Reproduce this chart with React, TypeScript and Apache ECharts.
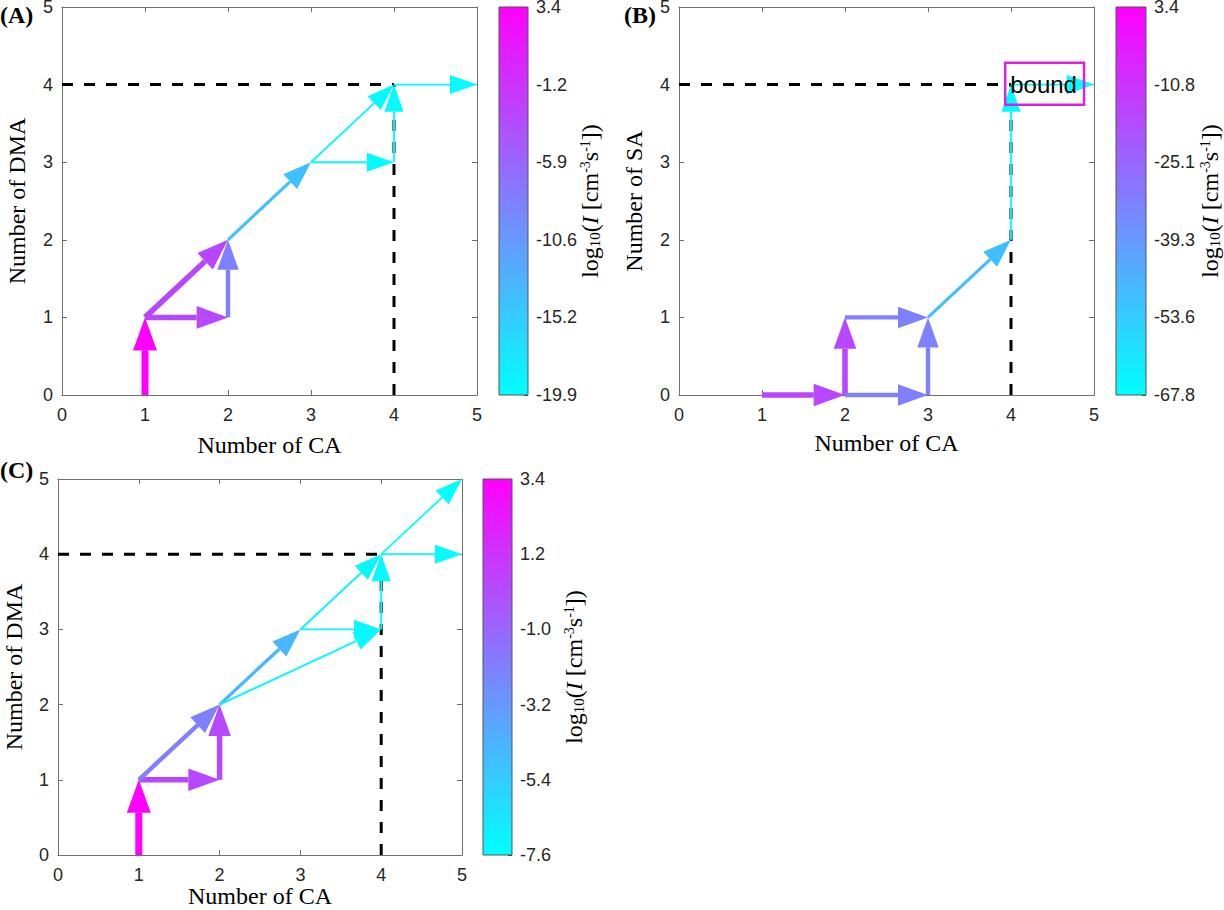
import React, { useEffect, useRef } from "react";
import * as echarts from "echarts";

// ---- data ----
// arrows: [from CA, from DMA/SA, to CA, to DMA/SA, log10 I]
const arrowsA = [
  [1, 0, 1, 1, 3.4],
  [1, 1, 2, 1, -3.1],
  [1, 1, 2, 2, -3.0],
  [2, 1, 2, 2, -8.3],
  [2, 2, 3, 3, -14.1],
  [3, 3, 4, 4, -19.4],
  [3, 3, 4, 3, -19.5],
  [4, 3, 4, 4, -19.6],
  [4, 4, 5, 4, -19.9],
];
const arrowsB = [
  [1, 0, 2, 0, -16.5],
  [2, 0, 2, 1, -16.3],
  [2, 0, 3, 0, -32.2],
  [2, 1, 3, 1, -32.4],
  [3, 0, 3, 1, -32.3],
  [3, 1, 4, 2, -50.0],
  [4, 2, 4, 4, -67.0],
  [4, 4, 5, 4, -67.8],
];
const arrowsC = [
  [1, 0, 1, 1, 3.4],
  [1, 1, 2, 1, 0.3],
  [2, 1, 2, 2, 0.3],
  [1, 1, 2, 2, -2.1],
  [2, 2, 3, 3, -4.5],
  [2, 2, 4, 3, -7.3],
  [3, 3, 4, 3, -7.3],
  [3, 3, 4, 4, -7.2],
  [4, 3, 4, 4, -7.4],
  [4, 4, 5, 4, -7.5],
  [4, 4, 5, 5, -7.6],
];
const rangeA = [-19.9, 3.4];
const rangeB = [-67.8, 3.4];
const rangeC = [-7.6, 3.4];
const cbarLabelsA = ["-19.9", "-15.2", "-10.6", "-5.9", "-1.2", "3.4"];
const cbarLabelsB = ["-67.8", "-53.6", "-39.3", "-25.1", "-10.8", "3.4"];
const cbarLabelsC = ["-7.6", "-5.4", "-3.2", "-1.0", "1.2", "3.4"];
const guideH = [[0, 4], [4, 4]];
const guideV = [[4, 0], [4, 4]];
const boundBox = [[3.93, 3.74, 4.88, 4.28]];
const boundText = "bound";
const xName = "Number of CA";
const yNames = ["Number of DMA", "Number of SA", "Number of DMA"];
const panelTags = ["(A)", "(B)", "(C)"];

const SANS = "Liberation Sans";
const SERIF = "Liberation Serif";
const LOW = "#00ffff";
const HIGH = "#ff00ff";

const panels = [
  {
    arrows: arrowsA, range: rangeA, cb: cbarLabelsA, yName: yNames[0],
    plot: { left: 62, top: 7, width: 415, height: 388 },
    bar: { left: 499, top: 7, width: 29, height: 388 },
    xGap: 38, yGap: 33, cbGap: 50, bound: false,
  },
  {
    arrows: arrowsB, range: rangeB, cb: cbarLabelsB, yName: yNames[1],
    plot: { left: 679, top: 7, width: 415, height: 388 },
    bar: { left: 1116, top: 7, width: 30, height: 388 },
    xGap: 36, yGap: 33, cbGap: 52, bound: true,
  },
  {
    arrows: arrowsC, range: rangeC, cb: cbarLabelsC, yName: yNames[2],
    plot: { left: 58, top: 479, width: 404, height: 376 },
    bar: { left: 483, top: 479, width: 29, height: 376 },
    xGap: 29, yGap: 32, cbGap: 50, bound: false,
  },
];

const cbName = "{t|log}{s|10}{t|(}{i|I}{t| [cm}{u|-3}{t|s}{u|-1}{t|])}";
const cbRich = {
  t: { fontFamily: SERIF, fontSize: 24, color: "#000", lineHeight: 24 },
  i: { fontFamily: SERIF, fontSize: 24, fontStyle: "italic", color: "#000", lineHeight: 24 },
  s: { fontFamily: SERIF, fontSize: 15, color: "#000", verticalAlign: "bottom", lineHeight: 13 },
  u: { fontFamily: SERIF, fontSize: 14, color: "#000", verticalAlign: "top", lineHeight: 13 },
};

function buildOption() {
  const grid: any[] = [];
  const xAxis: any[] = [];
  const yAxis: any[] = [];
  const series: any[] = [];
  const visualMap: any[] = [];
  const boxLine = { show: true, onZero: false, lineStyle: { color: "#707070", width: 1 } };
  const tick = { show: true, inside: true, length: 5, lineStyle: { color: "#707070" } };
  const tickLabel = { fontFamily: SANS, fontSize: 18, color: "#262626" };

  panels.forEach((p) => {
    const gMain = grid.length;
    grid.push({ ...p.plot, outerBoundsMode: "none", containLabel: false });
    const gBar = grid.length;
    grid.push({ ...p.bar, outerBoundsMode: "none", containLabel: false });

    const xb = xAxis.length;
    xAxis.push({
      gridIndex: gMain, type: "value", min: 0, max: 5, interval: 1, position: "bottom",
      axisLine: boxLine, axisTick: tick, splitLine: { show: false },
      axisLabel: { ...tickLabel, margin: 11 },
      name: xName, nameLocation: "middle", nameGap: p.xGap, nameMoveOverlap: false,
      nameTextStyle: { fontFamily: SERIF, fontSize: 24, color: "#000", lineHeight: 24 },
    });
    xAxis.push({
      gridIndex: gMain, type: "value", min: 0, max: 5, interval: 1, position: "top",
      axisLine: boxLine, axisTick: tick, splitLine: { show: false }, axisLabel: { show: false },
    });
    xAxis.push({ gridIndex: gBar, type: "value", min: 0, max: 1, show: false });

    const yl = yAxis.length;
    yAxis.push({
      gridIndex: gMain, type: "value", min: 0, max: 5, interval: 1, position: "left",
      axisLine: boxLine, axisTick: tick, splitLine: { show: false },
      axisLabel: { ...tickLabel, margin: 9 },
      name: p.yName, nameLocation: "middle", nameGap: p.yGap, nameRotate: 90, nameMoveOverlap: false,
      nameTextStyle: { fontFamily: SERIF, fontSize: 24, color: "#000", lineHeight: 24 },
    });
    yAxis.push({
      gridIndex: gMain, type: "value", min: 0, max: 5, interval: 1, position: "right",
      axisLine: boxLine, axisTick: tick, splitLine: { show: false }, axisLabel: { show: false },
    });
    const yc = yAxis.length;
    const labels = p.cb;
    yAxis.push({
      gridIndex: gBar, type: "value", min: 0, max: labels.length - 1, interval: 1, position: "right",
      axisLine: { show: false, onZero: false },
      axisTick: { show: true, inside: true, length: 4, lineStyle: { color: "#444" } },
      splitLine: { show: false },
      axisLabel: { ...tickLabel, margin: 8, formatter: (v: number) => labels[Math.round(v)] },
      name: cbName, nameLocation: "middle", nameGap: p.cbGap, nameRotate: 90, nameMoveOverlap: false,
      nameTextStyle: { rich: cbRich },
    });

    const dashStyle = { color: "#000", width: 3, type: [11, 11] };
    [guideH, guideV].forEach((g) => {
      series.push({
        type: "line", xAxisIndex: xb, yAxisIndex: yl, data: g, symbol: "none", silent: true,
        lineStyle: dashStyle, z: 2,
      });
    });

    const [vmin, vmax] = p.range;
    const arrowIdx = series.length;
    series.push({
      type: "custom", xAxisIndex: xb, yAxisIndex: yl, data: p.arrows, z: 3,
      encode: { x: [0, 2], y: [1, 3] },
      renderItem: (params: any, api: any) => {
        const a = api.coord([api.value(0), api.value(1)]);
        const b = api.coord([api.value(2), api.value(3)]);
        const v = api.value(4);
        const t = Math.max(0, Math.min(1, (v - vmin) / (vmax - vmin)));
        const color = api.visual("color");
        const lw = 1.8 + 5.2 * t;
        const dx = b[0] - a[0];
        const dy = b[1] - a[1];
        const len = Math.hypot(dx, dy) || 1;
        const ux = dx / len;
        const uy = dy / len;
        const hl = 27 + 6 * t;
        const hw = 9.5 + 2.5 * t;
        const bx = b[0] - ux * hl;
        const by = b[1] - uy * hl;
        const nx = -uy;
        const ny = ux;
        return {
          type: "group",
          children: [
            { type: "line", shape: { x1: a[0], y1: a[1], x2: bx, y2: by }, style: { stroke: color, lineWidth: lw } },
            {
              type: "polygon",
              shape: { points: [[b[0], b[1]], [bx + nx * hw, by + ny * hw], [bx - nx * hw, by - ny * hw]] },
              style: { fill: color },
            },
          ],
        };
      },
    });
    visualMap.push({
      type: "continuous", show: false, seriesIndex: arrowIdx, dimension: 4,
      min: vmin, max: vmax, inRange: { color: [LOW, HIGH] },
    });

    series.push({
      type: "custom", xAxisIndex: xb + 2, yAxisIndex: yc, data: [[0, 0]], silent: true,
      renderItem: (params: any, api: any) => {
        const p0 = api.coord([0, 0]);
        const p1 = api.coord([1, labels.length - 1]);
        return {
          type: "rect",
          shape: { x: p0[0], y: p1[1], width: p1[0] - p0[0], height: p0[1] - p1[1] },
          style: {
            fill: new echarts.graphic.LinearGradient(0, 0, 0, 1, [
              { offset: 0, color: HIGH },
              { offset: 1, color: LOW },
            ]),
            stroke: "#555",
            lineWidth: 1,
          },
        };
      },
    });

    if (p.bound) {
      series.push({
        type: "custom", xAxisIndex: xb, yAxisIndex: yl, data: boundBox, z: 4, silent: true,
        renderItem: (params: any, api: any) => {
          const tl = api.coord([api.value(0), api.value(3)]);
          const br = api.coord([api.value(2), api.value(1)]);
          return {
            type: "group",
            children: [
              {
                type: "rect",
                shape: { x: tl[0], y: tl[1], width: br[0] - tl[0], height: br[1] - tl[1] },
                style: { fill: "none", stroke: "#dd22dd", lineWidth: 2.5 },
              },
              {
                type: "text",
                style: {
                  text: boundText, x: tl[0] + 5, y: (tl[1] + br[1]) / 2 + 1,
                  align: "left", verticalAlign: "middle",
                  fontFamily: SANS, fontSize: 24, fill: "#000",
                },
              },
            ],
          };
        },
      });
    }
  });

  const tagPos = [
    { left: 0, top: 3 },
    { left: 624, top: 3 },
    { left: 0, top: 458 },
  ];
  const graphic = panelTags.map((t, i) => ({
    type: "text", ...tagPos[i],
    style: { text: t, fontFamily: SERIF, fontSize: 24, fontWeight: "bold", fill: "#000" },
  }));

  return { animation: false, backgroundColor: "#fff", grid, xAxis, yAxis, series, visualMap, graphic };
}

export default function App() {
  const ref = useRef<HTMLDivElement>(null);
  useEffect(() => {
    document.body.style.margin = "0";
    document.body.style.overflow = "hidden";
    if (!ref.current) return;
    const chart = echarts.init(ref.current, null, { renderer: "svg" });
    chart.setOption(buildOption() as any);
    return () => chart.dispose();
  }, []);
  return <div ref={ref} style={{ width: 1224, height: 910 }} />;
}
